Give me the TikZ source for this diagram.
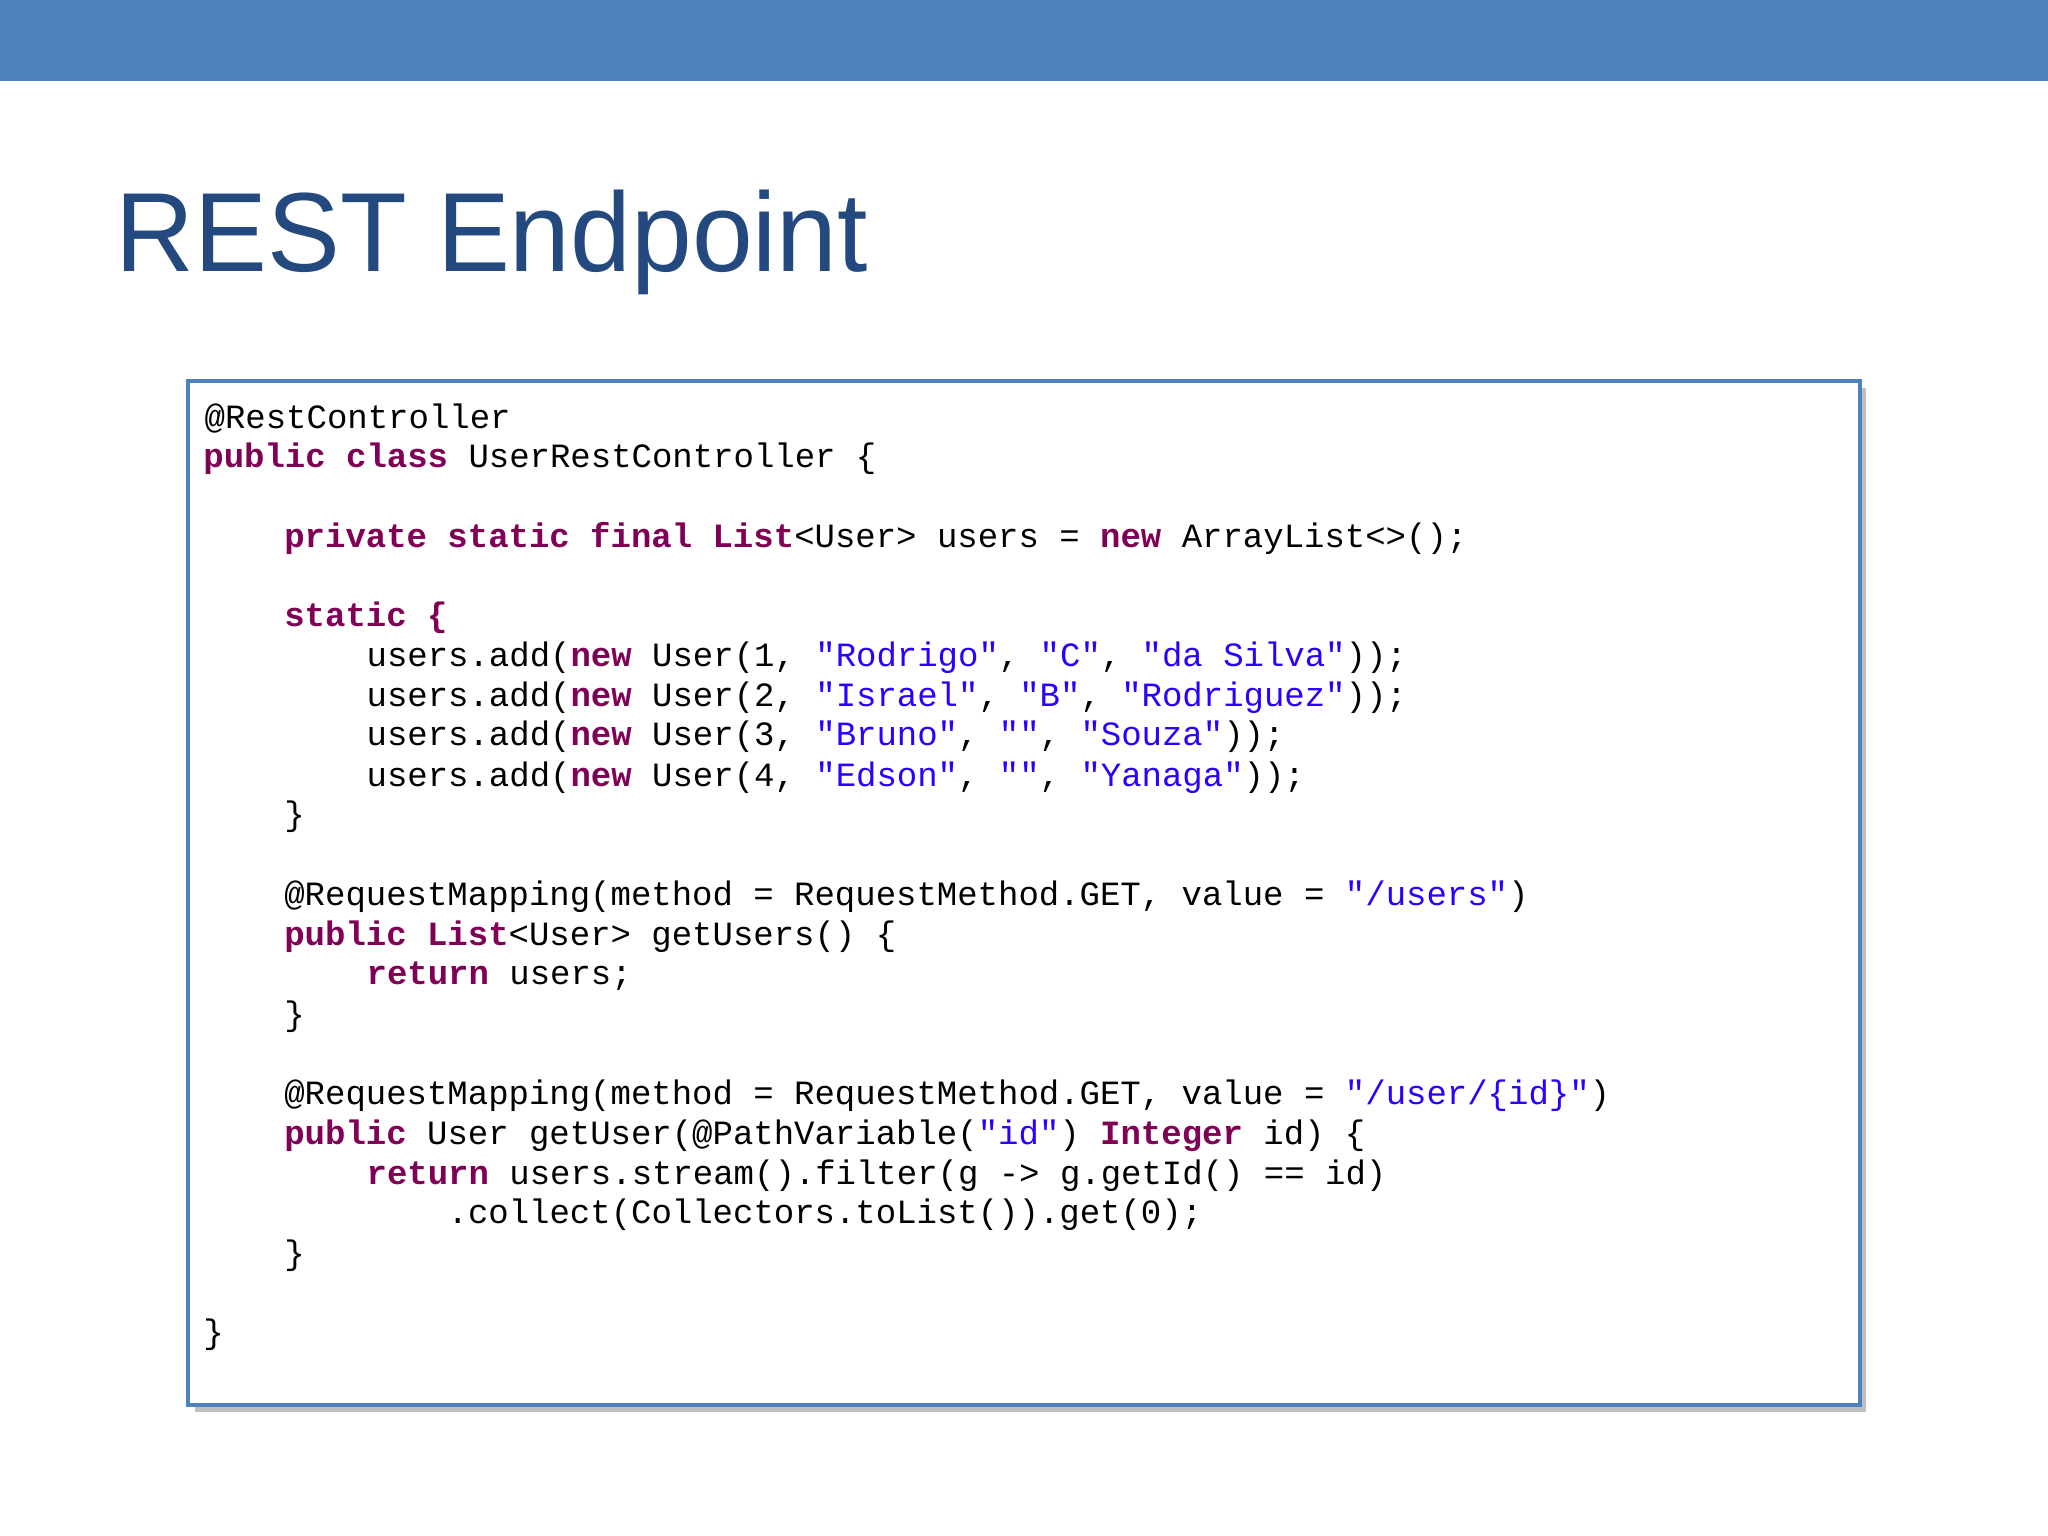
\documentclass[tikz,border=0pt]{standalone}
\usepackage{fontspec}
\setmainfont{Liberation Sans}
\setmonofont{Liberation Mono}
\definecolor{band}{HTML}{4F81BD}
\definecolor{ttl}{HTML}{23497E}
\definecolor{kwc}{HTML}{7F0055}
\definecolor{stc}{HTML}{2A00FF}
\newcommand{\kw}[1]{{\bfseries\color{kwc}#1}}
\newcommand{\stt}[1]{{\color{stc}#1}}
\begin{document}
\begin{tikzpicture}[x=0.01cm,y=-0.01cm,
  code/.style={anchor=base west,inner sep=0pt,font=\ttfamily\fontsize{7.4pt}{8pt}\selectfont}]
\useasboundingbox (0,0) rectangle (1568,1176);
\fill[band] (0,0) rectangle (1568,62);
\node[anchor=base west,inner sep=0pt,text=ttl,xscale=0.97,font=\fontsize{24.5pt}{28pt}\selectfont] (title) at (88,208) {REST Endpoint};
\fill[black!25] (149,297) rectangle (1429,1081);
\draw[band,line width=0.03cm,fill=white] (144,292) rectangle (1424,1076);
\node[code] (l1) at (156,328) {@RestController};
\node[code] (l2) at (155,358) {\kw{public class} UserRestController \{};
\node[code] (l4) at (217,419) {\kw{private static final List}<User> users = \kw{new} ArrayList<>();};
\node[code] (l6) at (217,480) {\kw{static \{}};
\node[code] (l7) at (280,510) {users.add(\kw{new} User(1, \stt{"Rodrigo"}, \stt{"C"}, \stt{"da Silva"}));};
\node[code] (l8) at (280,541) {users.add(\kw{new} User(2, \stt{"Israel"}, \stt{"B"}, \stt{"Rodriguez"}));};
\node[code] (l9) at (280,571) {users.add(\kw{new} User(3, \stt{"Bruno"}, \stt{""}, \stt{"Souza"}));};
\node[code] (l10) at (280,602) {users.add(\kw{new} User(4, \stt{"Edson"}, \stt{""}, \stt{"Yanaga"}));};
\node[code] (l11) at (217,632) {\}};
\node[code] (l13) at (217,693) {@RequestMapping(method = RequestMethod.GET, value = \stt{"/users"})};
\node[code] (l14) at (217,724) {\kw{public List}<User> getUsers() \{};
\node[code] (l15) at (280,754) {\kw{return} users;};
\node[code] (l16) at (217,785) {\}};
\node[code] (l18) at (217,846) {@RequestMapping(method = RequestMethod.GET, value = \stt{"/user/\{id\}"})};
\node[code] (l19) at (217,876) {\kw{public} User getUser(@PathVariable(\stt{"id"}) \kw{Integer} id) \{};
\node[code] (l20) at (280,907) {\kw{return} users.stream().filter(g -> g.getId() == id)};
\node[code] (l21) at (342,937) {.collect(Collectors.toList()).get(0);};
\node[code] (l22) at (217,968) {\}};
\node[code] (l24) at (155,1029) {\}};
\end{tikzpicture}
\end{document}
